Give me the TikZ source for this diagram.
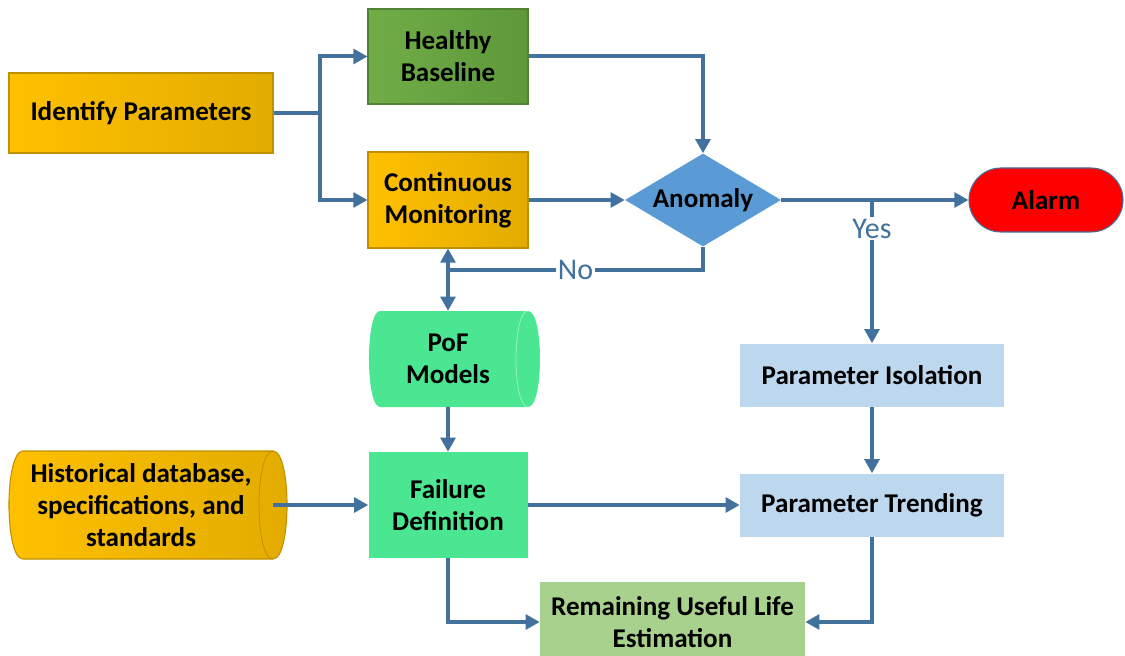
\documentclass[tikz,border=0pt]{standalone}
\usepackage{fontspec}
\setmainfont{Carlito}
\usetikzlibrary{arrows.meta,shapes.geometric,calc}
\definecolor{lineblue}{RGB}{65,113,156}
\definecolor{goldA}{RGB}{255,192,0}
\definecolor{goldB}{RGB}{226,172,0}
\definecolor{goldD}{RGB}{191,144,0}
\definecolor{greenA}{RGB}{112,173,71}
\definecolor{greenB}{RGB}{94,152,58}
\definecolor{greenD}{RGB}{84,130,53}
\definecolor{mint}{RGB}{75,230,145}
\definecolor{mintD}{RGB}{150,240,190}
\definecolor{paleblue}{RGB}{189,215,238}
\definecolor{diablue}{RGB}{91,155,213}
\definecolor{rulgreen}{RGB}{169,209,142}
\tikzset{
  x=0.75pt, y=-0.75pt,
  box/.style={rectangle, inner sep=0pt, align=center, font=\bfseries\fontsize{20.3}{24}\selectfont, text=black},
  goldbox/.style={box, draw=goldD, line width=0.8pt, left color=goldA, right color=goldB},
  conn/.style={draw=lineblue, line width=3pt, -{Triangle[length=10.5pt,width=11pt]}},
  plain/.style={draw=lineblue, line width=3pt},
  lab/.style={fill=white, inner sep=1.5pt, text=lineblue, font=\fontsize{22.5}{24}\selectfont},
}
\begin{document}
\begin{tikzpicture}
\useasboundingbox (0,0) rectangle (1125,656);

% nodes
\node[goldbox, minimum width=198pt, minimum height=60pt] (ip) at (141,113) {Identify Parameters};
\node[box, draw=greenD, line width=0.8pt, left color=greenA, right color=greenB, minimum width=120pt, minimum height=71.25pt] (hb) at (448,56.5) {Healthy\\Baseline};
\node[goldbox, minimum width=120pt, minimum height=72pt] (cm) at (448,200) {Continuous\\Monitoring};
\node[box, diamond, fill=diablue, aspect=1.68, minimum width=117pt, minimum height=69.75pt] (an) at (703,200) {Anomaly};
\node[box, fill=red, draw=lineblue, line width=0.8pt, rounded corners=24pt, minimum width=115.5pt, minimum height=48pt] (al) at (1046,200) {Alarm};
\node[box, fill=paleblue, minimum width=198pt, minimum height=47.25pt] (pi) at (872,375) {Parameter Isolation};
\node[box, fill=paleblue, minimum width=198pt, minimum height=47.25pt] (pt) at (872,505) {Parameter Trending};
\node[box, fill=mint, minimum width=119.25pt, minimum height=79.5pt] (fd) at (448,505) {Failure\\Definition};
\node[box, fill=rulgreen, minimum width=198.75pt, minimum height=60pt] (rul) at (672.5,622) {Remaining Useful Life\\Estimation};

% PoF cylinder
\fill[mint] (380,311) -- (528,311) .. controls (544,311) and (544,407) .. (528,407)
  -- (380,407) .. controls (365.3,407) and (365.3,311) .. (380,311) -- cycle;
\draw[mintD, line width=0.6pt] (528,311) .. controls (512,311) and (512,407) .. (528,407);
\node[box, minimum width=120pt, minimum height=72pt] (pof) at (448,359) {PoF\\Models};

% Historical cylinder
\path[draw=goldD, line width=0.8pt, left color=goldA, right color=goldB]
  (23,451) -- (273,451) .. controls (291.7,451) and (291.7,559) .. (273,559)
  -- (23,559) .. controls (4.3,559) and (4.3,451) .. (23,451) -- cycle;
\draw[goldD, line width=0.6pt] (273,451) .. controls (254.3,451) and (254.3,559) .. (273,559);
\node[box, minimum width=180pt, minimum height=81pt] (hd) at (141,505) {Historical database,\\specifications, and\\standards};

% connectors
\coordinate (split) at (320,113);
\draw[plain] (ip.east) -- (split);
\draw[conn] (split) |- (hb.west);
\draw[conn] (split) |- (cm.west);
\draw[conn] (hb.east) -| (an.north);
\draw[conn] (cm.east) -- (an.west);
\draw[conn] (an.east) -- (al.west);
\coordinate (yesjoin) at (an.east -| pi.north);
\draw[conn] (yesjoin) -- node[lab, pos=0.2] {Yes} (pi.north);
\coordinate (nojoin) at (448,270);
\draw[plain] (an.south) |- node[lab, pos=0.75] {No} (nojoin);
\draw[conn, {Triangle[length=10.5pt,width=11pt]}-{Triangle[length=10.5pt,width=11pt]}] (cm.south) -- (pof.north);
\draw[conn] (pof.south) -- (fd.north);
\draw[conn] (hd.east -| 273,0) -- (fd.west);
\draw[conn] (fd.east) -- (pt.west);
\draw[conn] (pi.south) -- (pt.north);
\draw[conn] (fd.south) |- (rul.west);
\draw[conn] (pt.south) |- (rul.east);
\end{tikzpicture}
\end{document}
